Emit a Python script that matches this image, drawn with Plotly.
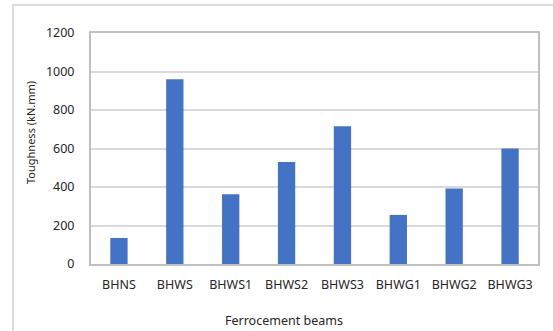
import plotly.graph_objects as go

categories = ["BHNS", "BHWS", "BHWS1", "BHWS2", "BHWS3", "BHWG1", "BHWG2", "BHWG3"]
toughness = [135, 960, 362, 530, 715, 255, 392, 600]
y_ticks = [0, 200, 400, 600, 800, 1000, 1200]

W, H = 553, 331
L, R, T, B = 91, 538, 33, 264

fig = go.Figure()
# chart frame (decoration) drawn on a full-page pixel axis
fig.add_trace(go.Scatter(x=[13, 13, 560], y=[340, 5, 5], mode="lines", xaxis="x2", yaxis="y2",
                         line=dict(color="#d0d0d0", width=1.5), hoverinfo="skip", cliponaxis=False))
fig.add_trace(go.Bar(x=categories, y=toughness, marker=dict(color="#4472C4", line=dict(width=0)),
                     width=0.31, xaxis="x", yaxis="y"))

font = "Noto Sans"
fig.update_layout(
    width=W, height=H, autosize=False,
    margin=dict(l=0, r=0, t=0, b=0, pad=0, autoexpand=False),
    paper_bgcolor="white", plot_bgcolor="rgba(0,0,0,0)",
    font=dict(family=font, size=12, color="#262626"),
    showlegend=False,
    xaxis=dict(
        domain=[L / W, R / W], anchor="y", automargin=False,
        showgrid=False, ticks="", tickfont=dict(size=12.5), ticklabelstandoff=8,
        showline=True, linecolor="#bfbfbf", linewidth=2, mirror=True,
    ),
    yaxis=dict(
        domain=[(H - B) / H, (H - T) / H], anchor="x", automargin=False,
        range=[0, 1200], tickvals=y_ticks, showgrid=True, gridcolor="#d9d9d9", gridwidth=1.5,
        tickfont=dict(size=12.5), ticks="", ticklabelstandoff=12,
        showline=True, linecolor="#bfbfbf", linewidth=2, mirror=True, zeroline=False,
    ),
    xaxis2=dict(domain=[0, 1], range=[0, W], visible=False, anchor="y2", fixedrange=True, automargin=False),
    yaxis2=dict(domain=[0, 1], range=[H, 0], visible=False, anchor="x2", fixedrange=True, automargin=False),
    annotations=[
        dict(text="Toughness (kN.mm)", xref="x2", yref="y2", x=30, y=133,
             xanchor="center", yanchor="middle", textangle=-90, showarrow=False,
             font=dict(size=11)),
        dict(text="Ferrocement beams", xref="x2", yref="y2", x=284, y=320,
             xanchor="center", yanchor="middle", showarrow=False,
             font=dict(size=12.5)),
    ],
)

fig.write_html("out.html", config={"displayModeBar": False},
               post_script="document.body.style.margin='0';document.body.style.overflow='hidden';")
